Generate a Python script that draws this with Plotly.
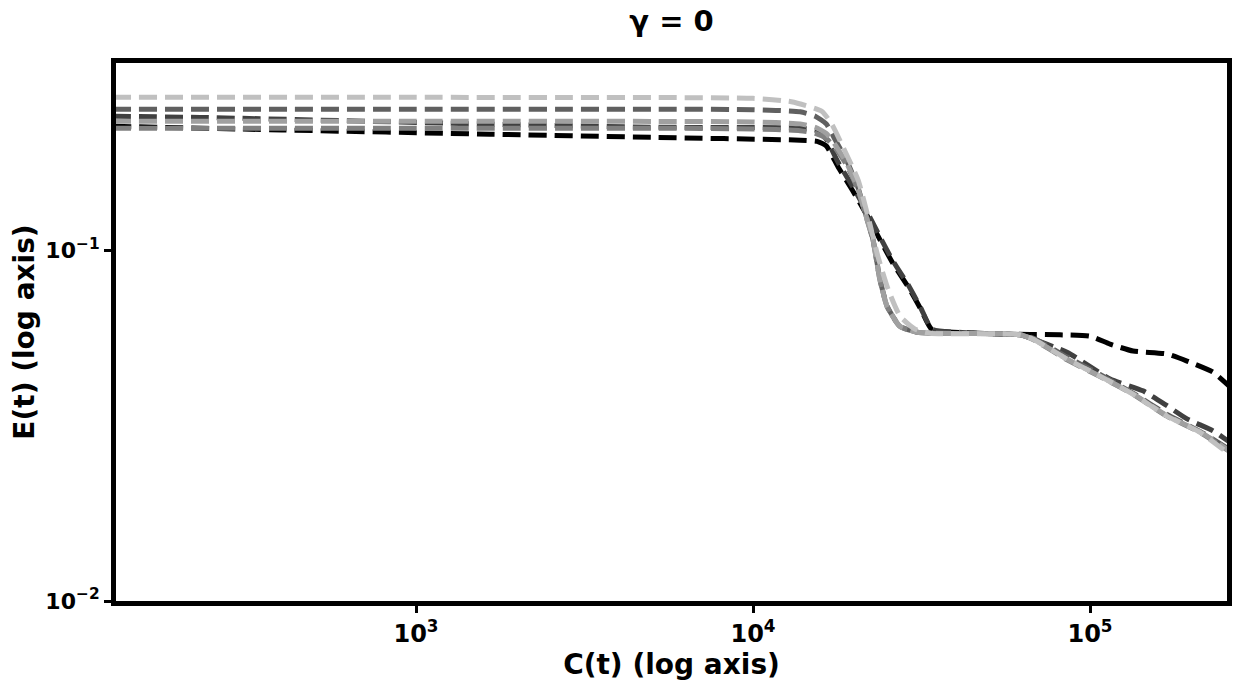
import plotly.graph_objects as go

# C(t) / E(t) curves, one pair per run
c_black = [126, 400, 1660, 5000, 13800, 15500, 16500, 17870, 19700, 21900, 23800, 26000, 28830, 31500, 33970,
           45000, 54050, 81500, 100000, 114700, 134200, 169200, 194000, 231700, 258400]
e_black = [0.2264, 0.2210, 0.2149, 0.2105, 0.2067, 0.2050, 0.1990, 0.1736, 0.1490, 0.1250, 0.1075, 0.0920, 0.0790, 0.0680, 0.0595,
           0.0582, 0.0578, 0.0575, 0.0570, 0.0541, 0.0517, 0.0507, 0.0484, 0.0450, 0.0411]

c_dark = [126, 229, 1660, 4950, 13800, 15500, 16500, 17870, 19700, 21900, 23800, 26000, 28830, 31500, 33970,
          45000, 61960, 67740, 85480, 114700, 143600, 169200, 194000, 231700, 258400]
e_dark = [0.2419, 0.2400, 0.2296, 0.2250, 0.2236, 0.2200, 0.2080, 0.1790, 0.1530, 0.1280, 0.1095, 0.0935, 0.0800, 0.0685, 0.0597,
          0.0582, 0.0575, 0.0559, 0.0513, 0.0430, 0.0398, 0.0361, 0.0331, 0.0306, 0.0285]

c_mid = [126, 1000, 5000, 10000, 13800, 15300, 16500, 17500, 19000, 20500, 21500, 22700, 23800, 25000, 27300, 30700, 34000,
         54000, 61960, 67740, 85480, 107100, 134200, 169200, 212000, 258400]
e_s2 = [0.2533, 0.2533, 0.2533, 0.2525, 0.2490, 0.2420, 0.2300, 0.2080, 0.1800, 0.1510, 0.1290, 0.1075, 0.0830, 0.0695, 0.0608, 0.0585, 0.0581,
        0.0579, 0.0576, 0.0563, 0.0497, 0.0443, 0.0392, 0.0341, 0.0305, 0.0271]
e_s3 = [0.2340, 0.2340, 0.2338, 0.2330, 0.2300, 0.2250, 0.2160, 0.2010, 0.1770, 0.1500, 0.1285, 0.1075, 0.0827, 0.0693, 0.0608, 0.0585, 0.0581,
        0.0579, 0.0575, 0.0559, 0.0490, 0.0438, 0.0390, 0.0338, 0.0304, 0.0269]
e_s5 = [0.2236, 0.2236, 0.2236, 0.2225, 0.2200, 0.2160, 0.2090, 0.1970, 0.1750, 0.1490, 0.1280, 0.1070, 0.0825, 0.0692, 0.0607, 0.0585, 0.0581,
        0.0579, 0.0575, 0.0558, 0.0488, 0.0437, 0.0389, 0.0337, 0.0303, 0.0268]

c_light = [126, 1000, 5000, 10000, 13000, 16000, 17200, 18500, 20500, 21950, 23490, 25180, 27330, 30270, 33520,
           54000, 61960, 67740, 85480, 107100, 134200, 169200, 212000, 258400]
e_light = [0.2738, 0.2738, 0.2735, 0.2720, 0.2660, 0.2500, 0.2280, 0.1975, 0.1591, 0.1249, 0.0961, 0.0775, 0.0649, 0.0597, 0.0581,
           0.0579, 0.0575, 0.0559, 0.0490, 0.0438, 0.0389, 0.0337, 0.0303, 0.0263]

series = [
    (c_black, e_black, '#000000'),
    (c_dark, e_dark, '#404040'),
    (c_mid, e_s2, '#606060'),
    (c_mid, e_s5, '#808080'),
    (c_mid, e_s3, '#a0a0a0'),
    (c_light, e_light, '#c0c0c0'),
]

x_ticks = [1e3, 1e4, 1e5]
x_ticktext = ['<b>10<sup>3</sup></b>', '<b>10<sup>4</sup></b>', '<b>10<sup>5</sup></b>']
y_ticks = [1e-2, 1e-1]
y_ticktext = ['<b>10<sup>\u22122</sup></b>', '<b>10<sup>\u22121</sup></b>']

fig = go.Figure()
for xs, ys, col in series:
    fig.add_trace(go.Scatter(
        x=xs, y=ys, mode='lines',
        line=dict(color=col, width=5, dash='18px,8px', shape='spline', smoothing=0.5),
        showlegend=False
    ))

font = 'DejaVu Sans'
axis_common = dict(
    type='log', ticks='outside', ticklen=7, tickwidth=3, tickcolor='black',
    showline=True, linewidth=5, linecolor='black', mirror=True,
    showgrid=False, zeroline=False, automargin=False,
)
# page body adds an 8px offset, so the figure is a bit smaller than the window
fig.update_layout(
    width=1238, height=675,
    margin=dict(l=108, r=19, t=55, b=82),
    plot_bgcolor='white', paper_bgcolor='white',
    font=dict(family=font, color='black'),
    title=dict(text='<b>\u03b3 = 0</b>', x=0.5, xref='paper', y=1, yref='container', yanchor='top',
               pad=dict(t=3), font=dict(family=font, size=29, color='black')),
    xaxis=dict(
        axis_common, range=[2.1098, 5.4065],
        tickvals=x_ticks, ticktext=x_ticktext,
        tickfont=dict(family=font, size=24, color='black'),
        title=dict(text='<b>C(t) (log axis)</b>', font=dict(family=font, size=28, color='black'), standoff=0),
    ),
    yaxis=dict(
        axis_common, range=[-2, -0.4645],
        tickvals=y_ticks, ticktext=y_ticktext,
        tickfont=dict(family=font, size=22, color='black'),
        title=dict(text='<b>E(t) (log axis)</b>', font=dict(family=font, size=28, color='black'), standoff=11),
    ),
)

fig.write_html("out.html")
